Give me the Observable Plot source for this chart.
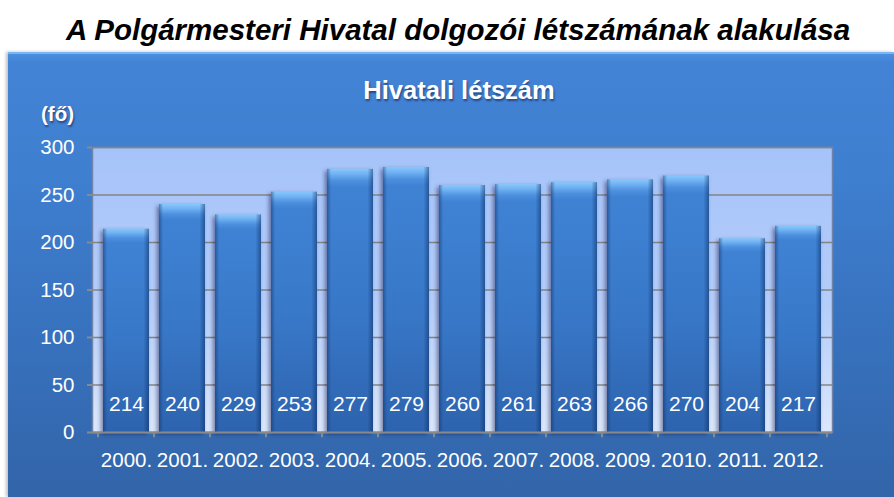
<!DOCTYPE html>
<html>
<head>
<meta charset="utf-8">
<script src="https://cdn.jsdelivr.net/npm/d3@7"></script>
<script src="https://cdn.jsdelivr.net/npm/@observablehq/plot@0.6"></script>
<style>
  html, body { margin: 0; padding: 0; background: #fff; width: 894px; height: 497px; overflow: hidden; font-family: "Liberation Sans", Arial, sans-serif; }
  #title { height: 46px; position: relative; }
  #title span { position: absolute; left: 0; width: 916px; text-align: center; top: 15px; line-height: 1; font-size: 29.5px; font-weight: bold; font-style: italic; color: #000; white-space: nowrap; }
  #wrap { position: relative; width: 894px; height: 451px; }
  #panel { position: absolute; left: 8px; top: 6px; right: 0; bottom: 0;
    background: linear-gradient(to bottom, #4a8fe0 0px, #4383d5 8px, #3f7fd0 120px, #3873c0 260px, #3264a8 451px);
    border-top: 2px solid #78b6f6; box-shadow: -2px 0 3px rgba(0,0,0,0.25); }
  #inner-title { position: absolute; left: 309px; width: 300px; text-align: center; top: 32px; line-height: 1; color: #fff; font-weight: bold; font-size: 25.5px; text-shadow: 1px 2px 2px rgba(0,0,40,0.45); white-space: nowrap; }
  #unit { position: absolute; left: 41px; top: 56px; color: #fff; font-weight: bold; font-size: 20.5px; text-shadow: 1px 2px 2px rgba(0,0,40,0.45); }
  #chart { position: absolute; left: 0; top: 0; }
  #chart svg { overflow: visible; }
</style>
</head>
<body>
<div id="title"><span>A Polgármesteri Hivatal dolgozói létszámának alakulása</span></div>
<div id="wrap">
  <div id="panel"></div>
  <div id="inner-title">Hivatali létszám</div>
  <div id="unit">(fő)</div>
  <div id="chart"></div>
</div>
<script>
const years = ["2000.", "2001.", "2002.", "2003.", "2004.", "2005.", "2006.", "2007.", "2008.", "2009.", "2010.", "2011.", "2012."];
const values = [214, 240, 229, 253, 277, 279, 260, 261, 263, 266, 270, 204, 217];
const yTicks = [0, 50, 100, 150, 200, 250, 300];

const data = years.map((year, i) => ({year, value: values[i]}));

const W = 894, H = 451, mL = 92, mR = 62, mT = 101, mB = 65;
const step = (W - mL - mR) / years.length;

const plot = Plot.plot({
  width: W,
  height: H,
  marginLeft: mL,
  marginRight: mR,
  marginTop: mT,
  marginBottom: mB,
  style: {background: "transparent", fontFamily: "'Liberation Sans', Arial, sans-serif", overflow: "visible"},
  x: {domain: years, paddingInner: 0.18, paddingOuter: 0.09, label: null},
  y: {domain: [0, 300], label: null},
  marks: [
    Plot.frame({fill: "url(#plotBg)", stroke: "#6f84a8", strokeWidth: 1.5}),
    Plot.gridY(yTicks, {stroke: "#858585", strokeOpacity: 1, strokeWidth: 1.5}),
    Plot.barY(data, {x: "year", y: "value", fill: "url(#barGrad)"}),
    Plot.barY(data, {x: "year", y: "value", fill: "url(#barEdge)"}),
    Plot.ruleY([0], {stroke: "#8a8a8a", strokeWidth: 2}),
    Plot.ruleX(years, {x: d => d, y1: 0, y2: -5.5, dx: -step / 2, stroke: "#8a8a8a", strokeWidth: 2}),
    Plot.ruleX([years[years.length - 1]], {x: d => d, y1: 0, y2: -5.5, dx: step / 2, stroke: "#8a8a8a", strokeWidth: 2}),
    Plot.axisY(yTicks, {tickSize: 5, tickPadding: 13, fontSize: 20.5, stroke: "#8a8a8a", strokeWidth: 2, fill: "white", label: null}),
    Plot.axisX({tickSize: 0, tickPadding: 20, fontSize: 20.5, fill: "white", label: null}),
    Plot.text(data, {x: "year", text: d => String(d.value), frameAnchor: "bottom", dy: -22, fill: "white", fontSize: 21})
  ]
});

const svg = d3.select(plot);
const defs = svg.insert("defs", ":first-child");
const bg = defs.append("linearGradient").attr("id", "plotBg").attr("x1", 0).attr("y1", 0).attr("x2", 0).attr("y2", 1);
bg.append("stop").attr("offset", "0%").attr("stop-color", "#a6c3f9");
bg.append("stop").attr("offset", "55%").attr("stop-color", "#b4cdf9");
bg.append("stop").attr("offset", "100%").attr("stop-color", "#dbe7fc");

const bar = defs.append("linearGradient").attr("id", "barGrad").attr("x1", 0).attr("y1", 0).attr("x2", 0).attr("y2", 1);
bar.append("stop").attr("offset", "0%").attr("stop-color", "#88c8fd");
bar.append("stop").attr("offset", "2%").attr("stop-color", "#70b2f3");
bar.append("stop").attr("offset", "4.5%").attr("stop-color", "#4d90de");
bar.append("stop").attr("offset", "7%").attr("stop-color", "#3f82d4");
bar.append("stop").attr("offset", "55%").attr("stop-color", "#3877c7");
bar.append("stop").attr("offset", "100%").attr("stop-color", "#2d63ae");

const edge = defs.append("linearGradient").attr("id", "barEdge").attr("x1", 0).attr("y1", 0).attr("x2", 1).attr("y2", 0);
edge.append("stop").attr("offset", "0%").attr("stop-color", "#0a2a5c").attr("stop-opacity", 0.45);
edge.append("stop").attr("offset", "9%").attr("stop-color", "#0a2a5c").attr("stop-opacity", 0);
edge.append("stop").attr("offset", "88%").attr("stop-color", "#0a2a5c").attr("stop-opacity", 0);
edge.append("stop").attr("offset", "100%").attr("stop-color", "#0a2a5c").attr("stop-opacity", 0.5);

svg.selectAll("g[aria-label='bar']").filter((d, i) => i === 0)
  .style("filter", "drop-shadow(-2px 2px 2px rgba(0,0,50,0.45))");

document.getElementById("chart").appendChild(plot);
</script>
</body>
</html>
